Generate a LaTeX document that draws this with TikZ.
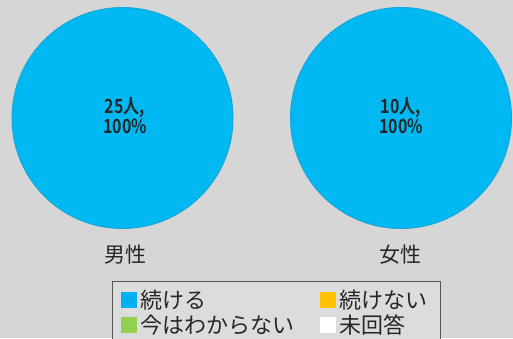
\documentclass[tikz,border=0pt]{standalone}
\usepackage{fontspec}
\newfontfamily\jp{Noto Sans CJK JP}
\newfontfamily\jpb{Noto Sans CJK JP Bold}
\usepackage{graphicx}
\definecolor{bg}{HTML}{D6D6D6}
\definecolor{pieblue}{HTML}{00B9F2}
\definecolor{rimblue}{HTML}{1AA6D6}
\definecolor{legbg}{HTML}{DCDCDC}
\definecolor{legline}{HTML}{555555}
\definecolor{lblue}{HTML}{00B0F0}
\definecolor{lorange}{HTML}{FFC000}
\definecolor{lgreen}{HTML}{92D050}
\definecolor{txt}{HTML}{262626}
\tikzset{
  pie/.style={circle, fill=pieblue, draw=rimblue, line width=1pt, minimum size=221pt, inner sep=0pt},
  pielabel/.style={font=\jpb\fontsize{19.5}{22}\selectfont, text=txt, align=center, inner sep=0pt},
  catlabel/.style={font=\jp\fontsize{21}{24}\selectfont, text=txt, inner sep=0pt},
  legtext/.style={font=\jp\fontsize{22}{24}\selectfont, text=txt, anchor=west, inner sep=0pt},
  legsq/.style={minimum size=16pt, inner sep=0pt, draw=none},
}
\begin{document}
\begin{tikzpicture}[x=1pt,y=-1pt]
\useasboundingbox (0,0) rectangle (513,338);
\fill[bg] (0,0) rectangle (513,338);
\node[pie] (m) at (122.5,118) {};
\node[pie] (f) at (401,118) {};
\node[pielabel] (ml) at (125,116) {\scalebox{0.82}[1]{25人,}\\[-2pt]\scalebox{0.82}[1]{100\%}};
\node[pielabel] (fl) at (401,116) {\scalebox{0.82}[1]{10人,}\\[-2pt]\scalebox{0.82}[1]{100\%}};
\node[catlabel] (mc) at (125,255) {男性};
\node[catlabel] (fc) at (400,255) {女性};
\draw[legline, fill=legbg, line width=0.8pt] (112,281) rectangle (440,345);
\node[legsq, fill=lblue] (s1) at (129,300) {};
\node[legtext] (t1) at (140,300) {続ける};
\node[legsq, fill=lorange] (s2) at (328,300) {};
\node[legtext] (t2) at (339,300) {続けない};
\node[legsq, fill=lgreen] (s3) at (129,325) {};
\node[legtext] (t3) at (140,325) {今はわからない};
\node[legsq, fill=white] (s4) at (328,325) {};
\node[legtext] (t4) at (339,325) {未回答};
\end{tikzpicture}
\end{document}
